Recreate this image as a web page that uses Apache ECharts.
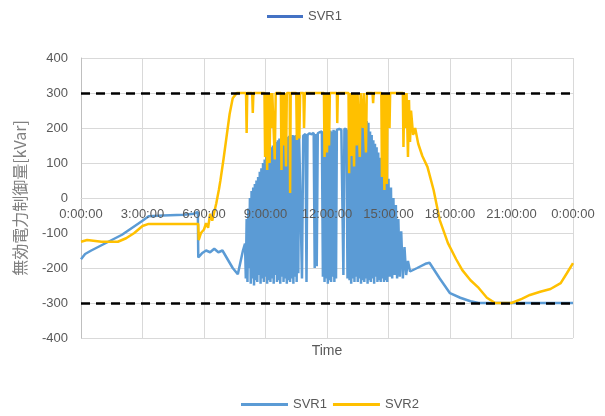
<!DOCTYPE html>
<html>
<head>
<meta charset="utf-8">
<script src="https://cdn.jsdelivr.net/npm/echarts@6/dist/echarts.min.js"></script>
<style>html,body{margin:0;padding:0;background:#fff}#c{width:605px;height:416px}</style>
</head>
<body>
<div id="c"></div>
<script>
// x values are hours of the day, y values kVar
var xTicks = [0, 3, 6, 9, 12, 15, 18, 21, 24];
var yTicks = [-400, -300, -200, -100, 0, 100, 200, 300, 400];
var limits = [300, -300];

var svr1 = [
[0,-175],[0.2,-160],[0.5,-150],[1,-135],[1.5,-120],[2,-105],[2.5,-85],[3,-65],[3.3,-52],[4,-50],[5,-48],[5.5,-45],[5.7,-40],
[5.72,-170],[5.9,-158],[6.1,-150],[6.3,-155],[6.5,-145],[6.7,-155],[6.9,-150],[7.1,-170],[7.4,-200],[7.65,-218],[7.9,-150],
[8.00,-130],[8.04,-230],[8.08,-60],[8.12,-240],[8.16,-30],[8.20,-200],[8.24,0],[8.28,-245],[8.32,20],[8.36,-230],
[8.40,30],[8.44,-250],[8.48,40],[8.52,-235],[8.56,50],[8.60,-240],[8.64,60],[8.68,-220],[8.72,75],[8.76,-245],
[8.80,85],[8.84,-230],[8.88,100],[8.92,-240],[8.96,110],[9.00,-225],[9.04,120],[9.08,-245],[9.12,130],[9.16,-235],
[9.20,135],[9.24,-240],[9.28,145],[9.32,-230],[9.36,150],[9.40,-245],[9.44,155],[9.48,-220],[9.52,160],[9.56,-240],
[9.60,165],[9.64,-235],[9.68,170],[9.72,-245],[9.76,168],[9.80,-225],[9.84,172],[9.88,-240],[9.92,175],[9.96,-230],
[10.00,170],[10.04,-245],[10.08,175],[10.12,-235],[10.16,178],[10.20,-240],[10.24,175],[10.28,-230],[10.32,180],
[10.36,-245],[10.40,178],[10.44,-225],[10.48,180],[10.52,-240],[10.56,182],[10.60,-215],[10.64,180],
[10.70,175],[10.78,-230],[10.84,178],[10.95,183],[11.00,-240],[11.05,180],[11.15,185],[11.25,182],[11.35,186],
[11.40,-200],[11.45,183],[11.50,-195],[11.55,185],[11.65,188],[11.75,190],
[11.80,-225],[11.84,188],[11.88,-240],[11.92,190],[11.96,-230],[12.00,192],[12.04,-245],[12.08,190],[12.12,-235],
[12.16,193],[12.20,-240],[12.24,190],[12.28,-225],[12.32,195],[12.36,-240],[12.40,192],[12.44,-230],[12.48,195],
[12.60,197],[12.70,195],[12.80,-220],[12.85,198],[12.95,196],[13.00,-230],[13.05,195],
[13.10,-235],[13.14,190],[13.18,-245],[13.22,192],[13.26,-230],[13.30,195],[13.34,-240],[13.38,190],[13.42,-225],
[13.46,195],[13.50,-240],[13.54,198],[13.58,-230],[13.62,200],[13.66,-245],[13.70,205],[13.74,-235],[13.78,210],
[13.82,-240],[13.86,215],[13.90,-230],[13.94,220],[13.98,-245],[14.02,215],[14.06,-235],[14.10,190],[14.14,-240],
[14.18,180],[14.22,-230],[14.26,165],[14.30,-245],[14.34,155],[14.38,-225],[14.42,145],[14.46,-240],[14.50,130],
[14.54,-235],[14.58,115],[14.62,-240],[14.66,100],[14.70,-230],[14.74,95],[14.78,-240],[14.82,90],[14.86,-235],
[14.90,70],[14.94,-240],[15.00,55],[15.06,-225],[15.12,30],[15.18,-230],[15.24,0],[15.30,-220],[15.36,-20],
[15.42,-230],[15.48,-60],[15.55,-225],[15.62,-95],[15.70,-230],[15.78,-140],[15.86,-220],[15.95,-180],
[16.05,-210],[16.4,-200],[16.8,-188],[17.0,-185],[17.5,-230],[18.0,-272],[18.5,-285],[19.0,-295],[19.4,-300],[24,-300]
];

var svr2 = [
[0,-125],[0.3,-120],[1,-125],[1.8,-125],[2.2,-115],[2.6,-100],[3.0,-80],[3.3,-74],[4,-74],[5,-74],[5.72,-74],
[5.74,-120],[5.85,-100],[6.0,-90],[6.1,-72],[6.2,-85],[6.3,-45],[6.4,-65],[6.6,-15],[6.73,25],[6.8,50],[6.95,110],
[7.1,175],[7.25,240],[7.4,285],[7.6,300],
[8.05,300],[8.08,186],[8.11,300],[8.35,300],[8.38,243],[8.41,300],[8.95,300],[8.98,117],[9.02,300],[9.08,80],[9.12,300],
[9.2,100],[9.24,300],[9.3,200],[9.33,300],[9.45,110],[9.5,300],[9.75,300],[9.78,80],[9.82,300],[9.88,150],[9.92,300],
[10.0,90],[10.04,300],[10.18,300],[10.2,14],[10.23,300],[10.5,300],[10.53,166],[10.57,300],[10.65,170],[10.69,300],
[10.85,300],[10.88,200],[10.92,300],[11.85,300],[11.88,117],[11.92,300],[12.0,130],[12.04,300],[12.1,150],[12.14,300],
[12.48,300],[12.5,214],[12.53,300],[13.05,300],[13.08,71],[13.12,300],[13.2,120],[13.24,300],[13.32,90],[13.36,300],
[13.45,150],[13.49,300],[13.6,117],[13.64,300],[13.75,200],[13.79,300],[13.9,130],[13.94,300],[14.22,300],[14.25,271],
[14.28,300],[14.65,300],[14.68,60],[14.72,300],[14.8,23],[14.84,300],[14.92,40],[14.96,300],[15.05,200],[15.08,300],
[15.7,300],[15.73,146],[15.77,300],[15.85,200],[15.88,300],[15.95,117],[16.0,280],[16.05,160],[16.1,250],[16.2,180],
[16.3,200],[16.45,155],[16.65,120],[16.9,89],[17.2,23],[17.5,-63],[17.9,-129],[18.3,-175],[18.6,-206],[19.0,-235],
[19.4,-257],[19.8,-285],[20.2,-300],[21.0,-300],[21.5,-288],[21.9,-277],[22.4,-268],[22.9,-260],[23.4,-243],
[23.7,-215],[24,-186]
];

var chart = echarts.init(document.getElementById('c'), null, {renderer: 'canvas'});
var FONT = 'Liberation Sans';
function fmtTime(v) { return (v % 24) + ':00:00'; }
chart.setOption({
  animation: false,
  textStyle: {fontFamily: FONT},
  grid: {left: 81, right: 32, top: 58, bottom: 78, containLabel: false, outerBoundsMode: 'none'},
  legend: [
    {
      top: 5, left: 262,
      icon: 'rect', itemWidth: 36, itemHeight: 3, itemGap: 4,
      textStyle: {color: '#595959', fontSize: 13, fontFamily: FONT},
      data: [{name: 'SVR1', itemStyle: {color: '#4472C4'}}],
      selectedMode: false
    },
    {
      top: 393, left: 236,
      icon: 'rect', itemWidth: 47, itemHeight: 3, itemGap: 6,
      textStyle: {color: '#595959', fontSize: 13, fontFamily: FONT},
      data: ['SVR1', 'SVR2'],
      selectedMode: false
    }
  ],
  xAxis: [
    {
      type: 'value', position: 'bottom', offset: -140,
      min: xTicks[0], max: xTicks[xTicks.length - 1], interval: 3,
      name: 'Time', nameLocation: 'middle', nameGap: 146,
      nameTextStyle: {color: '#595959', fontSize: 14, fontFamily: FONT},
      axisLine: {onZero: false, lineStyle: {color: '#d9d9d9'}},
      axisTick: {show: false},
      axisLabel: {show: false},
      splitLine: {show: true, lineStyle: {color: '#d9d9d9'}}
    },
    {
      type: 'value', position: 'bottom', offset: -140, z: 10,
      min: xTicks[0], max: xTicks[xTicks.length - 1], interval: 3,
      axisLine: {show: false, onZero: false},
      axisTick: {show: false},
      splitLine: {show: false},
      axisLabel: {color: '#595959', fontSize: 13, margin: 10, showMinLabel: true, showMaxLabel: true,
        formatter: fmtTime}
    }
  ],
  yAxis: {
    type: 'value', min: yTicks[0], max: yTicks[yTicks.length - 1], interval: 100,
    name: '無効電力制御量[kVar]', nameLocation: 'middle', nameGap: 53,
    nameTextStyle: {color: '#808080', fontSize: 16, fontFamily: 'Noto Sans CJK JP'},
    axisLine: {show: true, onZero: false, lineStyle: {color: '#bfbfbf'}},
    axisTick: {show: false},
    axisLabel: {color: '#595959', fontSize: 13, margin: 13},
    splitLine: {show: true, lineStyle: {color: '#d9d9d9'}}
  },
  series: [
    {
      name: 'SVR1', type: 'line', data: svr1, xAxisIndex: 0, showSymbol: false, symbol: 'none',
      color: '#5B9BD5', lineStyle: {width: 2.5, color: '#5B9BD5'}, z: 2
    },
    {
      name: 'SVR2', type: 'line', data: svr2, xAxisIndex: 0, showSymbol: false, symbol: 'none',
      color: '#FFC000', lineStyle: {width: 2.5, color: '#FFC000'}, z: 3,
      markLine: {
        silent: true, symbol: 'none', label: {show: false},
        lineStyle: {color: '#000000', type: [9, 6], width: 2.5},
        data: limits.map(function (v) { return {yAxis: v}; })
      }
    }
  ]
});
</script>
</body>
</html>
